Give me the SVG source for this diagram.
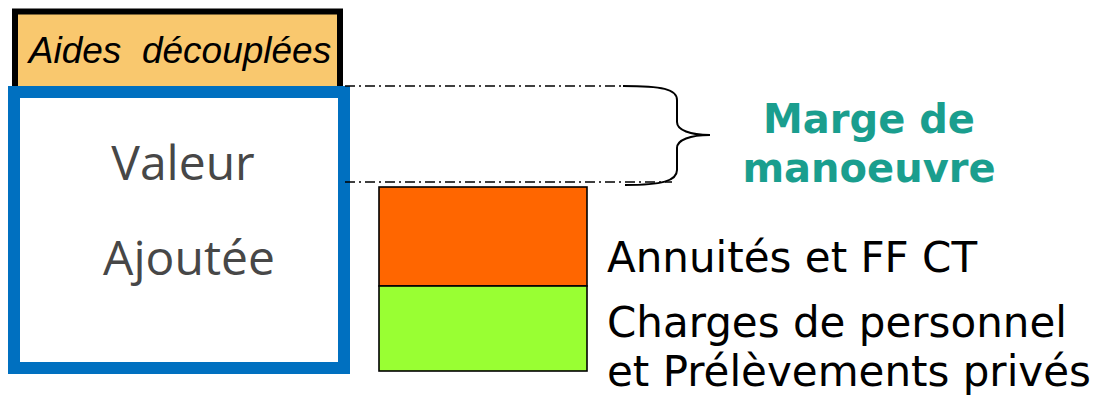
<svg xmlns="http://www.w3.org/2000/svg" width="1101" height="396" viewBox="0 0 1101 396">
  <style>
    .dd { fill: none; stroke: #000; stroke-width: 1.6; stroke-dasharray: 10 4 2 4; }
    .blk { font-family: "DejaVu Sans", Verdana, sans-serif; font-size: 42px; fill: #000; }
    .va { font-family: "Open Sans", "Noto Sans", sans-serif; font-size: 48px; fill: #474747; text-anchor: middle; }
    .mm { font-family: "DejaVu Sans", Verdana, sans-serif; font-size: 40px; font-weight: bold; fill: #1a9e8e; text-anchor: middle; }
  </style>
  <rect width="1101" height="396" fill="#fff"/>
  <g id="aides">
    <rect x="15" y="11.5" width="325" height="80" fill="#f9c86e" stroke="#000" stroke-width="6"/>
    <text x="180" y="63" font-family="Liberation Sans, Arial, sans-serif" font-size="37" font-style="italic" text-anchor="middle" fill="#000" xml:space="preserve">Aides  découplées</text>
  </g>
  <g id="valeur">
    <rect x="14" y="92" width="330" height="276" fill="#fff" stroke="#0070c0" stroke-width="12"/>
    <text class="va" x="183" y="180">Valeur</text>
    <text class="va" x="189" y="275">Ajoutée</text>
  </g>
  <g id="connectors">
    <line class="dd" x1="345" y1="86" x2="623" y2="86"/>
    <line class="dd" x1="345" y1="182" x2="672" y2="182"/>
    <path d="M623,86 C662,86 677,89 677,100 L677,122 C677,130 690,135 710,135 C690,135 677,140 677,148 L677,170 C677,181 662,185 625,185" fill="none" stroke="#000" stroke-width="2"/>
  </g>
  <g id="annuites">
    <rect x="379" y="187" width="208" height="99" fill="#ff6600" stroke="#000" stroke-width="1.6"/>
  </g>
  <g id="charges">
    <rect x="379" y="286" width="208" height="85" fill="#99ff33" stroke="#000" stroke-width="1.6"/>
  </g>
  <g id="labels">
    <text class="mm" x="869" y="133">Marge de</text>
    <text class="mm" x="869" y="182">manoeuvre</text>
    <text class="blk" x="607" y="272">Annuités et FF CT</text>
    <text class="blk" x="607" y="337">Charges de personnel</text>
    <text class="blk" x="607" y="386">et Prélèvements privés</text>
  </g>
</svg>
